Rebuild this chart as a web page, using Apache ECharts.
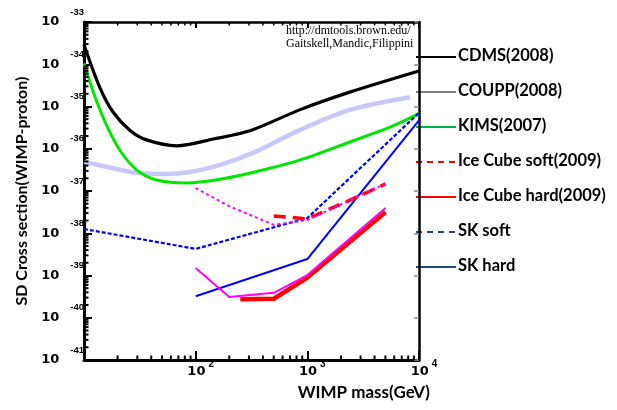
<!DOCTYPE html>
<html><head><meta charset="utf-8">
<script src="https://cdn.jsdelivr.net/npm/echarts@6/dist/echarts.min.js"></script>
<style>html,body{margin:0;padding:0;background:#fff}#c{width:617px;height:410px}</style>
</head><body><div id="c"></div>
<script>
// All values are log10: mass = log10(WIMP mass / GeV), sigma = log10(SD cross section / cm^2)
const cdmsMass   = [1.0, 1.14, 1.26, 1.41, 1.56, 1.83, 2.16, 2.50, 2.93, 3.38, 4.0];
const cdmsSigma  = [-33.54, -34.54, -35.13, -35.56, -35.79, -35.93, -35.77, -35.56, -35.08, -34.66, -34.16];
const couppMass  = [1.0, 1.26, 1.47, 1.71, 1.95, 2.22, 2.53, 2.93, 3.38, 3.92];
const couppSigma = [-36.31, -36.46, -36.57, -36.60, -36.55, -36.38, -36.08, -35.56, -35.08, -34.78];
const kimsMass   = [1.0, 1.10, 1.21, 1.32, 1.47, 1.65, 1.92, 2.22, 2.53, 2.93, 3.38, 3.74, 4.0];
const kimsSigma  = [-33.98, -34.78, -35.49, -36.03, -36.50, -36.74, -36.81, -36.72, -36.55, -36.27, -35.84, -35.49, -35.17];
const skSoftMass  = [1.0, 2.0, 3.0, 4.0];
const skSoftSigma = [-37.90, -38.37, -37.64, -35.15];
const skHardMass  = [2.0, 3.0, 4.0];
const skHardSigma = [-39.49, -38.61, -35.33];
const iceSoftMass  = [2.70, 3.0, 3.48, 3.70];
const iceSoftSigma = [-37.59, -37.66, -37.10, -36.83];
const iceHardMass  = [2.40, 2.70, 3.0, 3.70];
const iceHardSigma = [-39.56, -39.55, -39.05, -37.50];
const iceSoftAltMass  = [2.0, 2.30, 2.70, 3.0, 3.48, 3.70];
const iceSoftAltSigma = [-36.93, -37.36, -37.80, -37.69, -37.09, -36.83];
const iceHardAltMass  = [2.0, 2.30, 2.70, 3.0, 3.70];
const iceHardAltSigma = [-38.82, -39.51, -39.41, -38.99, -37.40];

const xTickExps = [1, 2, 3, 4];
const yTickExps = [-41, -40, -39, -38, -37, -36, -35, -34, -33];

const legendNames  = ['CDMS(2008)', 'COUPP(2008)', 'KIMS(2007)', 'Ice Cube soft(2009)', 'Ice Cube hard(2009)', 'SK soft', 'SK hard'];
const legendColors = ['#000000', '#7f7f7f', '#00b050', '#ff0000', '#ff0000', '#1f497d', '#1f497d'];
const legendDashed = [false, false, false, true, false, true, false];

const annotation = ['http://dmtools.brown.edu/', 'Gaitskell,Mandic,Filippini'];

const zip = (a, b) => a.map((v, i) => [v, b[i]]);
const xMin = xTickExps[0], xMax = xTickExps[xTickExps.length - 1];
const yMin = yTickExps[0], yMax = yTickExps[yTickExps.length - 1];

// minor log ticks (2..9 within each decade)
const xMinor = [], yMinor = [];
for (let n = xMin; n < xMax; n++) for (let k = 2; k <= 9; k++) xMinor.push([n + Math.log10(k), yMin]);
for (let n = yMin; n < yMax; n++) for (let k = 2; k <= 9; k++) yMinor.push([xMin, n + Math.log10(k)]);

const chart = echarts.init(document.getElementById('c'), null, {renderer: 'canvas'});

const lbl = {
  b: {fontFamily: 'DejaVu Sans', fontWeight: 'bold', fontSize: 13, color: '#000'},
  e: {fontFamily: 'Liberation Sans', fontWeight: 'bold', fontSize: 9.5, color: '#000', padding: [0, 0, 20, 11]}
};
const lblX = {
  b: {fontFamily: 'DejaVu Sans', fontWeight: 'bold', fontSize: 13, color: '#000', padding: [0, 0, 0, 10]},
  e: {fontFamily: 'Liberation Sans', fontWeight: 'bold', fontSize: 10, color: '#000', padding: [0, 0, 16, 3]}
};

function line(name, xs, ys, color, width, type, smooth, z) {
  return {
    name, type: 'line', data: zip(xs, ys), symbol: 'none', smooth: smooth ? 0.3 : false, z: z || 3,
    lineStyle: {color, width, type: type || 'solid', cap: 'butt'}, silent: true
  };
}

const legendGraphics = [];
legendNames.forEach((name, i) => {
  const y = 57 + i * 35;
  legendGraphics.push({
    type: 'line', shape: {x1: 416, y1: y, x2: 456, y2: y},
    style: {stroke: legendColors[i], lineWidth: 2, lineDash: legendDashed[i] ? [6, 5] : null}
  });
  legendGraphics.push({
    type: 'text', x: 458, y: y - 1,
    style: {text: name, font: 'bold 16.5px Lato', fill: '#000', textVerticalAlign: 'middle'}
  });
});
annotation.forEach((t, i) => {
  legendGraphics.push({
    type: 'text', x: 286, y: 31 + i * 13,
    style: {text: t, font: '12px "Liberation Serif"', fill: '#000', textVerticalAlign: 'middle'}
  });
});

chart.setOption({
  animation: false,
  backgroundColor: '#fff',
  grid: {left: 84, right: 198, top: 22, bottom: 50},
  xAxis: [{
    type: 'value', min: xMin, max: xMax, interval: 1, position: 'bottom',
    name: 'WIMP mass(GeV)', nameLocation: 'end', nameGap: 11,
    nameTextStyle: {fontFamily: 'Lato', fontWeight: 'bold', fontSize: 17, color: '#000', align: 'right', verticalAlign: 'top', padding: [24, 0, 0, 0]},
    axisLine: {lineStyle: {color: '#000', width: 3}},
    axisTick: {inside: true, length: 9, lineStyle: {color: '#000', width: 2}},
    splitLine: {show: false},
    axisLabel: {margin: -1, formatter: v => v === xMin ? '' : '{b|10}{e|' + v + '}', rich: lblX}
  }, {
    type: 'value', min: xMin, max: xMax, interval: 1, position: 'top',
    axisLine: {lineStyle: {color: '#000', width: 2.5}},
    axisTick: {inside: true, length: 6, lineStyle: {color: '#000', width: 2}},
    axisLabel: {show: false}, splitLine: {show: false}
  }],
  yAxis: [{
    type: 'value', min: yMin, max: yMax, interval: 1, position: 'left',
    name: 'SD Cross section(WIMP-proton)', nameLocation: 'middle', nameGap: 44,
    nameTextStyle: {fontFamily: 'Lato', fontWeight: 'bold', fontSize: 16, color: '#000'},
    axisLine: {lineStyle: {color: '#000', width: 3}},
    axisTick: {inside: true, length: 8, lineStyle: {color: '#000', width: 2}},
    splitLine: {show: false},
    axisLabel: {margin: 0, formatter: v => '{b|10}{e|' + v + '}', rich: lbl}
  }, {
    type: 'value', min: yMin, max: yMax, interval: 1, position: 'right',
    axisLine: {lineStyle: {color: '#000', width: 2.5}},
    axisTick: {inside: true, length: 5, lineStyle: {color: '#888', width: 1.5}},
    axisLabel: {show: false}, splitLine: {show: false}
  }],
  graphic: legendGraphics,
  series: [
    line('COUPP(2008)', couppMass, couppSigma, '#c8c8fa', 4.5, 'solid', true, 2),
    line('KIMS(2007)', kimsMass, kimsSigma, '#00e600', 3, 'solid', true, 3),
    line('CDMS(2008)', cdmsMass, cdmsSigma, '#000000', 3.2, 'solid', true, 4),
    line('SK soft', skSoftMass, skSoftSigma, '#0000ff', 2.2, [4, 2], false, 5),
    line('SK hard', skHardMass, skHardSigma, '#0000ff', 2, 'solid', false, 5),
    line('Ice Cube hard(2009)', iceHardMass, iceHardSigma, '#ff0000', 4.5, 'solid', false, 6),
    line('Ice Cube hard (alt)', iceHardAltMass, iceHardAltSigma, '#ff00ff', 2, 'solid', false, 7),
    line('Ice Cube soft(2009)', iceSoftMass, iceSoftSigma, '#ff0000', 3.5, [12, 7], false, 6),
    line('Ice Cube soft (alt)', iceSoftAltMass, iceSoftAltSigma, '#ff00ff', 2, [3, 3], false, 7),
    {
      type: 'custom', data: xMinor, silent: true, clip: false, z: 10,
      renderItem: (params, api) => {
        const v = api.value(0);
        const b = api.coord([v, yMin]);
        const t = api.coord([v, yMax]);
        return {type: 'group', children: [
          {type: 'line', shape: {x1: b[0], y1: b[1], x2: b[0], y2: b[1] - 4.5}, style: {stroke: '#000', lineWidth: 2}},
          {type: 'line', shape: {x1: t[0], y1: t[1], x2: t[0], y2: t[1] + 3.5}, style: {stroke: '#000', lineWidth: 1.5}}
        ]};
      }
    },
    {
      type: 'custom', data: yMinor, silent: true, clip: false, z: 10,
      renderItem: (params, api) => {
        const p = api.coord([xMin, api.value(1)]);
        return {type: 'line', shape: {x1: p[0], y1: p[1], x2: p[0] + 4.5, y2: p[1]}, style: {stroke: '#000', lineWidth: 2}};
      }
    }
  ]
});
</script>
</body></html>
